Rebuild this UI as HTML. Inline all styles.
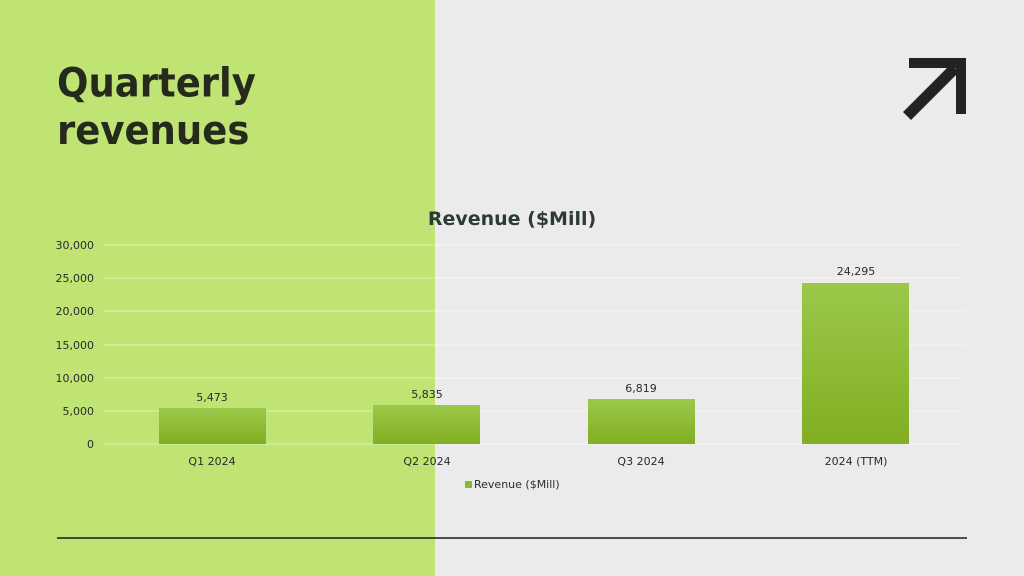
<!DOCTYPE html>
<html><head><meta charset="utf-8"><style>
html,body{margin:0;padding:0}
body{width:1024px;height:576px;position:relative;overflow:hidden;background:#ebebeb;font-family:"DejaVu Sans","Liberation Sans",sans-serif}
.green{position:absolute;left:0;top:0;width:435px;height:576px;background:#c0e474}
h1{position:absolute;left:57px;top:60px;margin:0;font-size:37px;line-height:44px;font-weight:bold;color:#252a1c;transform:scaleY(1.08);transform-origin:0 0}
svg{position:absolute;left:0;top:0}
</style></head><body>
<div class="green"></div>
<h1>Quarterly<br>revenues</h1>
<svg width="1024" height="576" font-family="DejaVu Sans, Liberation Sans, sans-serif">
<defs><linearGradient id="g" x1="0" y1="0" x2="0" y2="1"><stop offset="0" stop-color="#9cc84a"/><stop offset="1" stop-color="#82ae22"/></linearGradient></defs>
<path d="M909 58H966V114H956V68H909Z" fill="#232323"/>
<path d="M903 112L951 64L959 72L911 120Z" fill="#232323"/>
<g stroke="#ffffff" stroke-opacity="0.45" stroke-width="1">
<line x1="104" y1="245" x2="964" y2="245"/><line x1="104" y1="278" x2="964" y2="278"/><line x1="104" y1="311" x2="964" y2="311"/><line x1="104" y1="345" x2="964" y2="345"/><line x1="104" y1="378" x2="964" y2="378"/><line x1="104" y1="411" x2="964" y2="411"/><line x1="104" y1="444" x2="964" y2="444"/>
</g>
<g fill="#2b2b2b" font-size="11" text-anchor="end">
<text x="94" y="249">30,000</text><text x="94" y="282">25,000</text><text x="94" y="315">20,000</text><text x="94" y="349">15,000</text><text x="94" y="382">10,000</text><text x="94" y="415">5,000</text><text x="94" y="448">0</text>
</g>
<text x="512" y="225" text-anchor="middle" font-size="19" font-weight="bold" fill="#2d3a3a">Revenue ($Mill)</text>
<rect x="159" y="408" width="107" height="36" fill="url(#g)"/>
<rect x="373" y="405" width="107" height="39" fill="url(#g)"/>
<rect x="588" y="399" width="107" height="45" fill="url(#g)"/>
<rect x="802" y="283" width="107" height="161" fill="url(#g)"/>
<g fill="#2b2b2b" font-size="11" text-anchor="middle">
<text x="212" y="401">5,473</text><text x="427" y="398">5,835</text><text x="641" y="392">6,819</text><text x="856" y="275">24,295</text>
<text x="212" y="465">Q1 2024</text><text x="427" y="465">Q2 2024</text><text x="641" y="465">Q3 2024</text><text x="856" y="465">2024 (TTM)</text>
</g>
<rect x="465" y="481" width="7" height="7" fill="#8ab832"/>
<text x="474" y="488" font-size="11" fill="#2b2b2b">Revenue ($Mill)</text>
<line x1="57" y1="538" x2="967" y2="538" stroke="#1a1a1a" stroke-width="1.5"/>
</svg>
</body></html>
